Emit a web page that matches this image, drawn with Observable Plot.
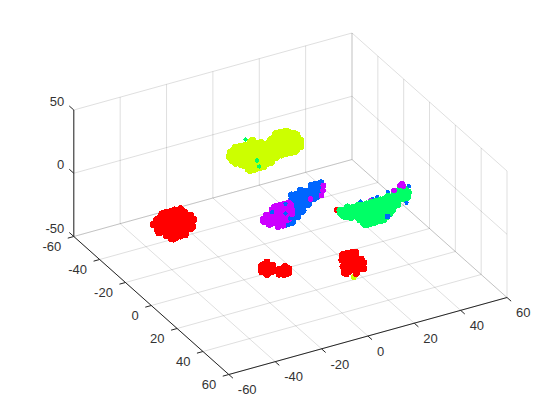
<!DOCTYPE html>
<html><head><meta charset="utf-8">
<script src="https://cdn.jsdelivr.net/npm/d3@7"></script>
<script src="https://cdn.jsdelivr.net/npm/@observablehq/plot@0.6"></script>
<style>html,body{margin:0;padding:0;background:#fff}svg{display:block}</style>
</head><body><div id="chart"></div>
<script>
const xTicks = [-60,-40,-20,0,20,40,60];
const yTicks = [-60,-40,-20,0,20,40,60];
const zTicks = [-50,0,50];
const colors = {red:"#ff0000", yellow:"#ccff00", green:"#00ff66", blue:"#0066ff", magenta:"#cc00ff"};

// Each row: y value, then the x values at that y. All at the stated z.
const redLeftZ = -30;
const redLeft = [
 [-42,-32,-30,-28,-26,-24],
 [-39,-36,-34,-32,-30,-28,-26,-24],
 [-36,-38,-36,-34,-32,-30,-28,-26,-24],
 [-33,-38,-36,-34,-32,-30,-28,-26,-24],
 [-30,-40,-38,-36,-34,-32,-30,-28,-26],
 [-27,-38,-36,-34,-32,-30,-28],
 [-24,-38,-36,-34,-32],
 [-42.3,-26.5],[-39.2,-23.9],[-35.7,-23.2],[-32.4,-23.6],[-28.1,-26.6],[-24.3,-32.2],
 [-23.3,-37.5],[-26.9,-38.5],[-32.5,-39.3],[-36.6,-38.7],[-39.5,-34.7],[-42,-30.5]
];
const yellowZ = 0;
const yellowBlob = [
 [-49,11,21,23,25],
 [-46,1,3,5,7,9,11,13,17,19,21,23,25,27],
 [-43,-1,1,3,5,7,9,11,13,15,17,19,21,23,25,27],
 [-40,-3,-1,1,3,5,7,9,11,13,15,17,19,21,23,25],
 [-37,-3,-1,1,3,5,7,9,11,13,15,17,19,21,23,25],
 [-34,-1,1,3,5,7,9,11,13,15,17,19,21],
 [-31,-1,1,3,5,7,9],
 [-29.5,-1,1,3,5],
 [-45.1,-.8],[-47.4,2.7],[-47.1,4.7],[-46.9,6.8],[-48.5,9.8],[-46,10.6],[-44.7,12.9],[-44.3,15.3],
 [-46.8,19.2],[-49.2,22.8],[-47.9,25.9],[-44.5,27.5],[-40.1,26.7],[-36.1,24.5],[-34.5,21.9],[-35.7,19],
 [-34.6,15.4],[-33.4,12.2],[-31.3,8.1],[-30.2,3.9],[-31,0],[-35,-1.6],[-39.3,-3.1],[-42.5,-2.6]
];
const greenInYellow = [[-50.9,9],[-34.8,5],[-30.4,3.5]];
const midZ = -20;
const blueBody = [
 [-25,23,25,27],
 [-22,13,15,17,19,21,23,25],
 [-19,11,13,15,17,19,21,23],
 [-16,7,9,11,13,15,17,19],
 [-13,7,9,11,13,15],
 [-10,3,5,7,9,11],
 [-7,1,3,5,7],
 [-4,-1,1,3],
 [-22.4,12.9],[-23.7,17.6],[-24,22.5],[-24.7,26.8],[-21.8,25.6],[-16.5,20.3],[-15.7,17],
 [-9.6,10.1],[-5.1,3.3],[-4.1,-.3]
];
const magentaBody = [
 [-17.5,3,5,7,9],
 [-16,1,3,5,7,9],
 [-13,-3,-1,1,3,5,7],
 [-10,-6,-4,-2,0,2,4,6],
 [-7,-5,-3,-1,1,3],
 [-4,-3,-1],
 [-11.3,-5.4],[-13.4,-2.9],[-17.2,3.6],[-17.6,9],[-12.4,7.4],[-7,2.2],[-5.2,-2.3],[-7.7,-5.1]
];
const blueFlecks = [[-14.5,.2],[-17.6,7.7],[-7.1,3.7],[-11.2,4.1]];
const magentaStrip = [[-22.8,26.9],[-19.6,24.9],[-16.5,22.6],[-16.3,17.8]];
const greenZ = -30;
const greenBody = [
 [-14,53,55,57],
 [-11,29,31,33,35,37,39,41,43,45,47,49,51,53,55,57],
 [-8,27,29,31,33,35,37,39,41,43,45,47,49,51,53,55],
 [-5,29,31,33,35,37,39,41,43,45,47,49],
 [-2,31,33,35,37,39,41,43,45],
 [1,31,33,35,37,39,41],
 [2.5,31,33,35,37,39],
 [-11.6,27.9],[-12.5,31.6],[-11.5,35.8],[-10.6,40.4],[-11.1,45],[-11.9,48.9],[-13.2,52.2],[-13.7,55.2],
 [-12,56.8],[-8.4,54.6],[-6.5,49.4],[-4.4,46.9],[-.2,42.7],[2.5,37.5],[2.6,32.3],[-.9,31.4],
 [-5.6,29.9],[-6.6,27.4],[-10.1,27.2]
];
const blueBehindGreen = [[-13.7,37.9],[-13.2,42.8],[-13.6,45],[-14.9,50.3],[-15.1,59.5],[-16,57.2],[-7.4,55.2],[-4.5,52.6]];
const magentaBehindGreen = [[-13.1,41.8]];
const redBehindGreen = [[-12.6,26.9]];
const blueOnGreen = [[1.2,41.3]];
const magentaOnGreen = [[-17.1,56.8],[-16.1,57.8],[-18.1,58.2],[-14.9,53]];
const lowZ = -40;
const redMiddle = [
 [2,-13,-11],
 [5,-15,-13,-11],
 [8,-15,-13,-11,-9,-7],
 [11,-11,-9,-7],
 [.9,-10.6],[4.2,-9.9],[7.9,-11.9],[8.9,-15],[6.1,-15.8],[2.7,-14.1],
 [7.1,-6.4],[9.4,-5.9],[12,-7.6],[12.2,-9.5],[9.8,-10]
];
const redRight = [
 [10,17,19,21],
 [13,15,17,19,21],
 [16,15,17,19,21],
 [19,13,15,17,19,21],
 [22,11,13,15,17,19],
 [11.1,16.6],[10.9,19.4],[10.7,22.1],[16.1,21.5],[22.8,18.8],[24.8,14.6],[23,11.3],[17.8,12.8],[13.8,15]
];
const yellowBehindRed = [[26.7,12.5]];

// View of the 3D box: screen position of the corner (-60,-60,-50) and of each axis' full span
const origin = [73.3,236], spanX = [278.2,-77], spanY = [155,138], spanZ = [0,-126.5];
const px = (x,y,z) => origin[0] + (x+60)/120*spanX[0] + (y+60)/120*spanY[0] + (z+50)/100*spanZ[0];
const py = (x,y,z) => origin[1] + (x+60)/120*spanX[1] + (y+60)/120*spanY[1] + (z+50)/100*spanZ[1];
const pt = (x,y,z) => ({sx:px(x,y,z), sy:py(x,y,z)});
const seg = (a,b) => ({x1:px(...a),y1:py(...a),x2:px(...b),y2:py(...b)});

const rows = (r,z) => r.flatMap(([y,...xs]) => xs.map(x => pt(x,y,z)));

const grid = [
  ...xTicks.map(x => seg([x,-60,-50],[x,60,-50])),
  ...yTicks.map(y => seg([-60,y,-50],[60,y,-50])),
  ...xTicks.map(x => seg([x,-60,-50],[x,-60,50])),
  ...yTicks.map(y => seg([60,y,-50],[60,y,50])),
  ...zTicks.map(z => seg([-60,-60,z],[60,-60,z])),
  ...zTicks.map(z => seg([60,-60,z],[60,60,z]))
];
const axes = [
  seg([-60,60,-50],[60,60,-50]),
  seg([-60,-60,-50],[-60,60,-50]),
  seg([-60,-60,-50],[-60,-60,50]),
  ...xTicks.map(x => seg([x,60,-50],[x,63.2,-50])),
  ...yTicks.map(y => seg([-60,y,-50],[-62.6,y,-50])),
  ...zTicks.map(z => seg([-60,-60,z],[-60,-63.5,z]))
];

const body = 3.6, single = 2.9, fleck = 2.2;
const layers = [
  [rows(redLeft,redLeftZ),colors.red,body],
  [rows(yellowBlob,yellowZ),colors.yellow,body],
  [rows(greenInYellow,yellowZ),colors.green,fleck],
  [rows(yellowBehindRed,lowZ),colors.yellow,single],
  [rows(redMiddle,lowZ),colors.red,body],
  [rows(redRight,lowZ),colors.red,body],
  [rows(blueBody,midZ),colors.blue,body],
  [rows(magentaBody,midZ),colors.magenta,body],
  [rows(blueFlecks,midZ),colors.blue,fleck],
  [rows(magentaStrip,midZ),colors.magenta,single],
  [rows(blueBehindGreen,greenZ),colors.blue,fleck],
  [rows(magentaBehindGreen,greenZ),colors.magenta,fleck],
  [rows(redBehindGreen,greenZ),colors.red,single],
  [rows(greenBody,greenZ),colors.green,body],
  [rows(blueOnGreen,greenZ),colors.blue,single],
  [rows(magentaOnGreen,greenZ),colors.magenta,single]
];

const labelFont = {fontSize:13, fill:"#333333", lineAnchor:"middle"};
const chart = Plot.plot({
  width:560, height:420, margin:0,
  x:{domain:[0,560],range:[0,560],axis:null},
  y:{domain:[0,420],range:[0,420],axis:null},
  style:{fontFamily:"'Liberation Sans',Arial,sans-serif",background:"#fff"},
  marks:[
    Plot.link(grid,{x1:"x1",y1:"y1",x2:"x2",y2:"y2",stroke:"#262626",strokeOpacity:0.15,strokeWidth:1}),
    ...layers.map(([d,c,r]) => Plot.dot(d,{x:"sx",y:"sy",r,fill:c,shapeRendering:"crispEdges"})),
    Plot.link(axes,{x1:"x1",y1:"y1",x2:"x2",y2:"y2",stroke:"#262626",strokeWidth:1}),
    Plot.text(xTicks,{x:d=>px(d,60,-50),y:d=>py(d,60,-50),text:d=>String(d),textAnchor:"start",dx:9,dy:15.5,...labelFont}),
    Plot.text(yTicks,{x:d=>px(-60,d,-50),y:d=>py(-60,d,-50),text:d=>String(d),textAnchor:"end",dx:-12.6,dy:10,...labelFont}),
    Plot.text(zTicks,{x:d=>px(-60,-60,d),y:d=>py(-60,-60,d),text:d=>String(d),textAnchor:"end",dx:-9.5,dy:-8,...labelFont})
  ]
});
document.getElementById("chart").append(chart);
</script></body></html>
